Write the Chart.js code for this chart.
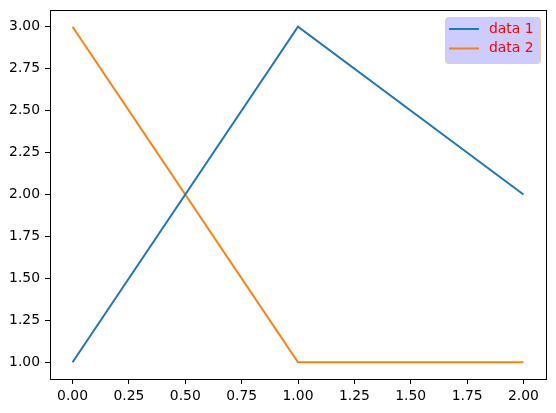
<!DOCTYPE html>
<html>
<head>
<meta charset="utf-8">
<script src="https://cdn.jsdelivr.net/npm/chart.js@4/dist/chart.umd.min.js"></script>
<style>
html,body{margin:0;padding:0;background:#fff;}
#wrap{width:556px;height:413px;}
</style>
</head>
<body>
<div id="wrap"><canvas id="c" width="556" height="413"></canvas></div>
<script>
const xValues = [0, 1, 2];
const data1 = [1, 3, 2];
const data2 = [3, 1, 1];
const seriesLabels = ['data 1', 'data 2'];
const seriesColors = ['#1f77b4', '#ff7f0e'];

const FONT = 'DejaVu Sans';

const framePlugin = {
  id: 'frame',
  afterDraw(chart) {
    const {ctx, chartArea: a} = chart;
    ctx.save();
    ctx.strokeStyle = '#000';
    ctx.lineWidth = 1;
    ctx.strokeRect(Math.round(a.left) + 0.5, Math.round(a.top) + 0.5, Math.round(a.right - a.left), Math.round(a.bottom - a.top));
    // legend
    const bx = 445, by = 17, bw = 95, bh = 46;
    ctx.beginPath();
    if (ctx.roundRect) ctx.roundRect(bx + 0.5, by + 0.5, bw, bh, 3); else ctx.rect(bx + 0.5, by + 0.5, bw, bh);
    ctx.fillStyle = '#ccccff';
    ctx.fill();
    ctx.strokeStyle = 'rgba(240,200,160,0.9)';
    ctx.lineWidth = 1;
    ctx.stroke();
    chart.data.datasets.forEach((ds, i) => {
      const y = 29 + i * 19.5;
      ctx.beginPath();
      ctx.strokeStyle = ds.borderColor;
      ctx.lineWidth = 2;
      ctx.moveTo(449, y);
      ctx.lineTo(479, y);
      ctx.stroke();
      ctx.fillStyle = 'red';
      ctx.font = '13.9px "' + FONT + '"';
      ctx.textBaseline = 'middle';
      ctx.textAlign = 'left';
      ctx.fillText(ds.label, 489, y);
    });
    ctx.restore();
  }
};

new Chart(document.getElementById('c'), {
  type: 'line',
  data: {
    datasets: [
      {label: seriesLabels[0], data: xValues.map((x, i) => ({x, y: data1[i]})), borderColor: seriesColors[0], backgroundColor: seriesColors[0], borderWidth: 2, pointRadius: 0, tension: 0},
      {label: seriesLabels[1], data: xValues.map((x, i) => ({x, y: data2[i]})), borderColor: seriesColors[1], backgroundColor: seriesColors[1], borderWidth: 2, pointRadius: 0, tension: 0}
    ]
  },
  options: {
    responsive: false,
    animation: false,
    layout: {padding: {left: 0, right: 10, top: 10, bottom: 0}},
    plugins: {legend: {display: false}, tooltip: {enabled: false}},
    scales: {
      x: {
        type: 'linear', min: -0.1, max: 2.1,
        afterBuildTicks(s) { const t = []; for (let v = 0; v <= 2.0001; v += 0.25) t.push({value: +v.toFixed(2)}); s.ticks = t; },
        afterFit(s) { s.height = 34; s.paddingLeft = 0; s.paddingRight = 0; },
        grid: {drawOnChartArea: false, drawTicks: true, tickLength: 5, color: '#000'},
        border: {display: true, color: '#000'},
        ticks: {color: '#000', padding: 4, maxRotation: 0, autoSkip: false, font: {family: FONT, size: 13.9}, callback: v => Number(v).toFixed(2)}
      },
      y: {
        type: 'linear', min: 0.9, max: 3.1,
        afterBuildTicks(s) { const t = []; for (let v = 1; v <= 3.0001; v += 0.25) t.push({value: +v.toFixed(2)}); s.ticks = t; },
        afterFit(s) { s.width = 50; s.paddingTop = 0; s.paddingBottom = 0; },
        grid: {drawOnChartArea: false, drawTicks: true, tickLength: 5, color: '#000'},
        border: {display: true, color: '#000'},
        ticks: {color: '#000', padding: 5, autoSkip: false, font: {family: FONT, size: 13.9}, callback: v => Number(v).toFixed(2)}
      }
    }
  },
  plugins: [framePlugin]
});
</script>
</body>
</html>
